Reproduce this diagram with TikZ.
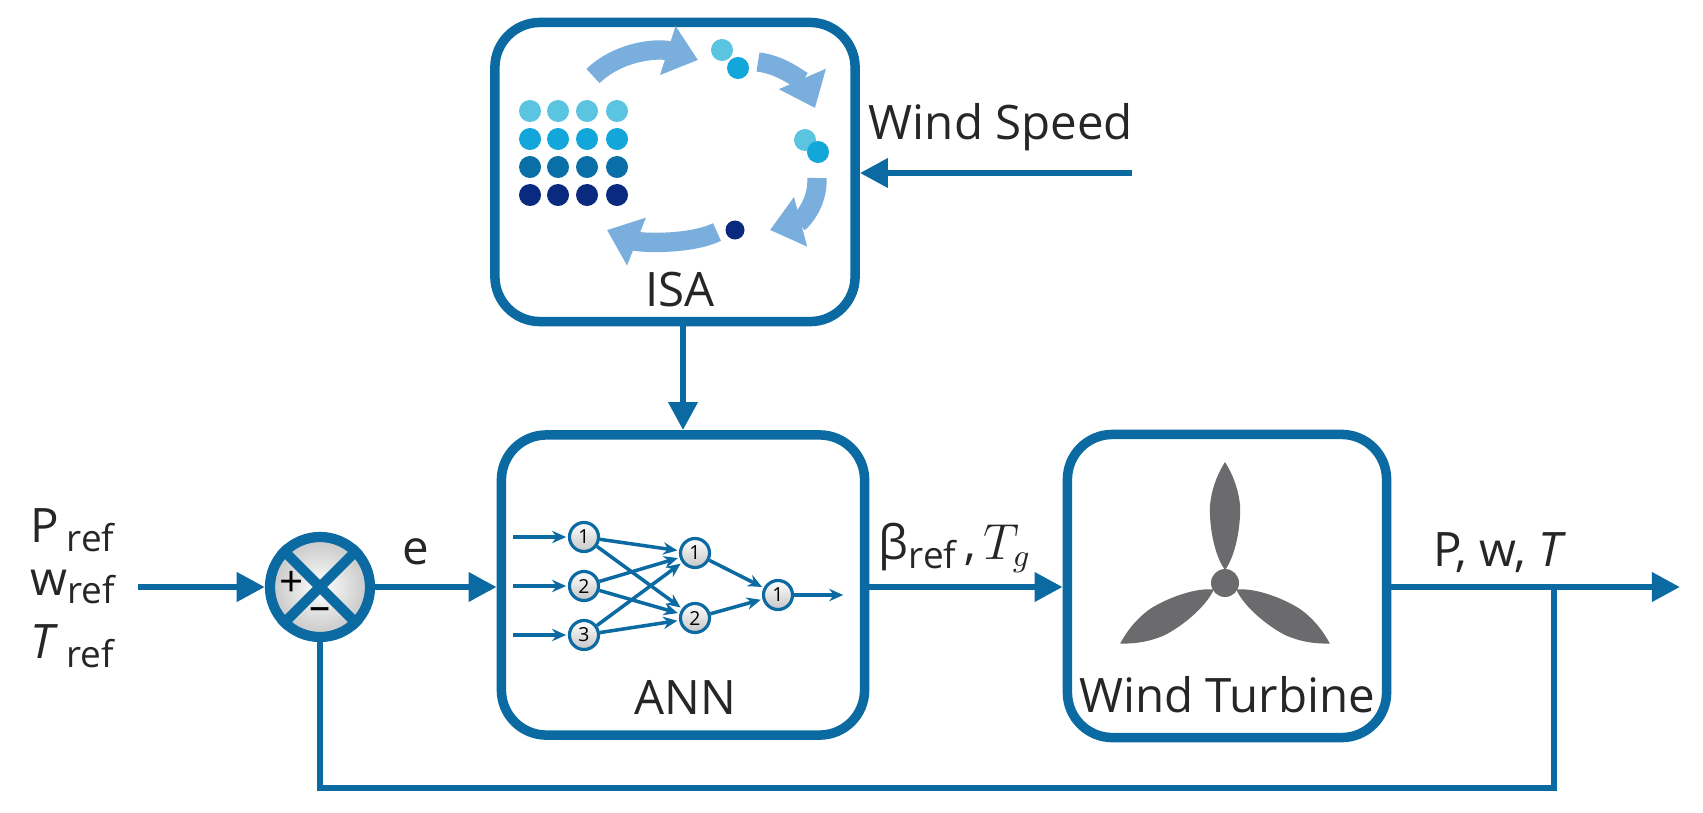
\documentclass[tikz,border=0pt]{standalone}
\usepackage{fontspec}
\setmainfont{Open Sans}
\usetikzlibrary{arrows.meta,shapes.geometric}
\definecolor{bl}{HTML}{0B6AA2}
\definecolor{c1}{HTML}{5BC4E0}
\definecolor{c2}{HTML}{12A6DA}
\definecolor{c3}{HTML}{0A6FA6}
\definecolor{c4}{HTML}{0A2A80}
\definecolor{arr}{HTML}{7AAEDC}
\definecolor{gr}{HTML}{6B6B6D}
\newcommand{\sref}{\raisebox{-0.35ex}{\fontsize{10.5}{11}\selectfont ref}}
\begin{document}
\begin{tikzpicture}[x=0.01cm,y=-0.01cm,every node/.append style={transform shape},
  box/.style={draw=bl,line width=2.7pt,rounded corners=0.45cm,fill=white},
  con/.style={bl,line width=1.9pt,-{Triangle[length=8pt,width=8pt]}},
  ln/.style={bl,line width=1.9pt},
  lab/.style={font=\fontsize{13.5}{15}\selectfont,text=black!85},
  nn/.style={circle,draw=bl,line width=0.9pt,inner sep=0pt,minimum size=0.29cm,
    top color=white,bottom color=gray!45,font=\fontsize{5.5}{5.5}\selectfont},
  na/.style={bl,line width=1pt,-{Stealth[length=4pt,width=3.5pt]},shorten >=0.5pt},
  dot/.style={circle,inner sep=0pt,minimum size=0.22cm},
  cyc/.style={arr,line width=5.5pt,-{Triangle[length=9pt,width=14pt]}}]
\useasboundingbox (0,0) rectangle (1703,812);
% boxes
\node[box,minimum width=3.6cm,minimum height=2.99cm] (isa) at (675,172) {};
\node[box,minimum width=3.63cm,minimum height=3.0cm] (ann) at (683,585) {};
\node[box,minimum width=3.19cm,minimum height=3.03cm] (wt) at (1227,586) {};
\node[lab] (isal) at (680,290) {ISA};
\node[lab] (annl) at (685,697) {ANN};
\node[lab] (wtl) at (1227,695) {Wind Turbine};
% ISA icon
\foreach \c [count=\r] in {c1,c2,c3,c4}{
  \foreach \x in {530,558,587,617}{
    \node[dot,fill=\c] (d\r\x) at (\x,{83+28*\r}) {};}}
\node[dot,fill=c1] (p1) at (722,50) {};
\node[dot,fill=c2] (p2) at (738,68) {};
\node[dot,fill=c1] (p3) at (805,140) {};
\node[dot,fill=c2] (p4) at (818,152) {};
\node[dot,fill=c4,minimum size=0.19cm] (p5) at (735,230) {};
\draw[cyc] (593,76) .. controls (620,50) and (660,48) .. (698,60);
\draw[cyc] (758,62) .. controls (785,65) and (805,85) .. (815,108);
\draw[cyc] (817,178) .. controls (818,205) and (800,222) .. (770,230);
\draw[cyc] (717,232) .. controls (690,245) and (640,243) .. (607,230);
% ANN net
\node[nn] (i1) at (584,537) {1};
\node[nn] (i2) at (584,586) {2};
\node[nn] (i3) at (584,635) {3};
\node[nn] (h1) at (695,553) {1};
\node[nn] (h2) at (695,618) {2};
\node[nn] (o1) at (778,595) {1};
\foreach \i in {1,2,3}{
  \coordinate (s\i) at (513,{488+49*\i});
  \draw[na] (s\i) -- (i\i);
  \foreach \h in {1,2}{\draw[na] (i\i) -- (h\h);}}
\draw[na] (h1) -- (o1);
\draw[na] (h2) -- (o1);
\coordinate (oe) at (845,595);
\draw[na] (o1) -- (oe);
% turbine
\node[circle,fill=gr,minimum size=0.28cm,inner sep=0] (hub) at (1225,583) {};
\foreach \a in {0,120,240}{
  \fill[gr,rotate around={\a:(hub)}] (1225,570)
     .. controls (1214,555) and (1209,525) .. (1210,505)
     .. controls (1212,485) and (1220,470) .. (1225,462)
     .. controls (1230,470) and (1238,485) .. (1240,505)
     .. controls (1241,525) and (1236,555) .. (1225,570) -- cycle;}
% summing junction
\node[circle,draw=bl,line width=2.9pt,minimum size=1.0cm,inner sep=0,
  inner color=white,outer color=gray!45] (sum) at (320,587) {};
\draw[bl,line width=2.9pt] (sum.45) -- (sum.225) (sum.135) -- (sum.315);
\node[font=\fontsize{12}{12}\selectfont] (plus) at (292,584) {+};
\node[font=\fontsize{12}{12}\selectfont] (minus) at (320,614) {--};
% inputs
\node[lab,anchor=west] (pr) at (18,530) {P\,\sref};
\node[lab,anchor=west] (wr) at (18,587) {w\sref};
\node[lab,anchor=west] (tr) at (18,646) {\textit{T}\,\sref};
\coordinate (in) at (138,587);
\draw[con] (in) -- (sum);
\draw[con] (sum) -- (ann.west |- sum);
\node[lab] (el) at (416,552) {e};
\draw[con] (ann.east |- sum) -- (wt.west |- sum);
\node[lab] (bl) at (955,548) {β\sref\,,\,$T_g$};
\coordinate (out) at (1680,587);
\draw[con] (wt.east |- sum) -- (out);
\node[lab] (pw) at (1500,553) {P, w, \textit{T}};
\coordinate (tap) at (1554,587);
\coordinate (fb) at (1554,788);
\draw[ln] (tap) -- (fb) -- (sum |- fb) -- (sum);
% wind speed
\coordinate (ws) at (1132,173);
\draw[con] (ws) -- (isa.east |- ws);
\node[lab] (wsl) at (1001,127) {Wind Speed};
\draw[con] (isa.south -| ann) -- (ann.north);
\end{tikzpicture}
\end{document}
